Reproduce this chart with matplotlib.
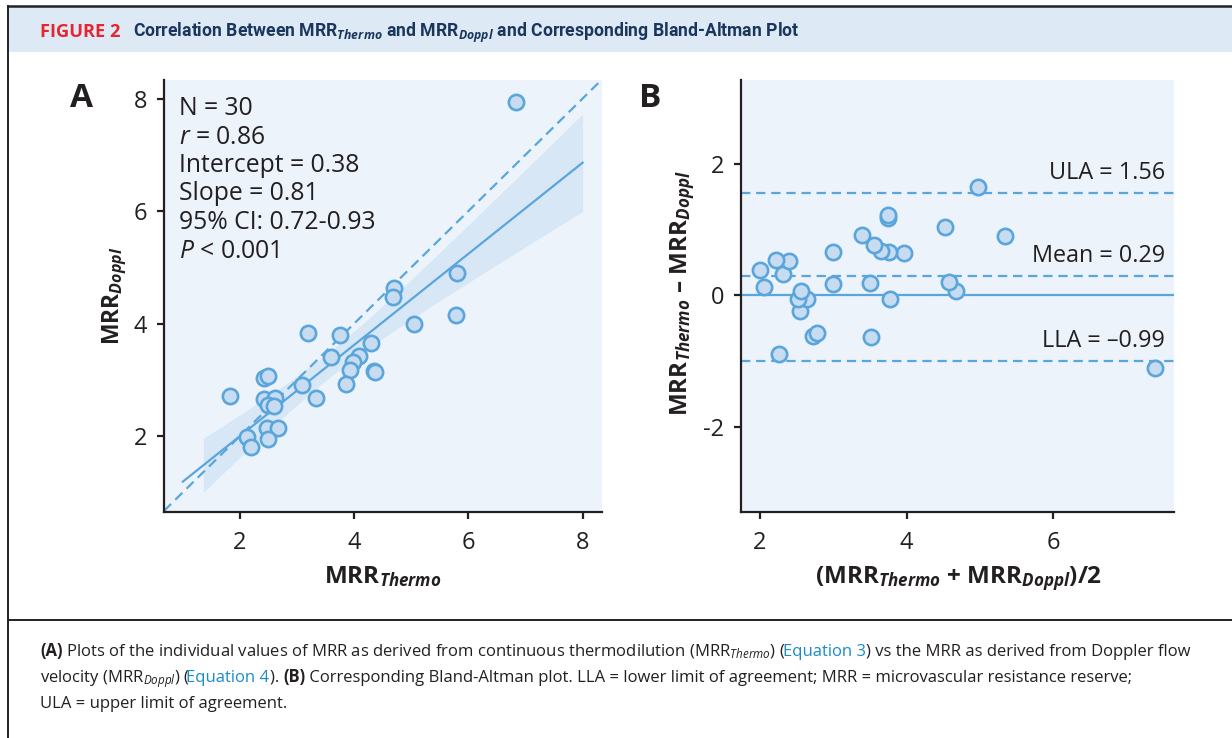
import matplotlib
matplotlib.use("Agg")
import matplotlib.pyplot as plt
import matplotlib.transforms as mtransforms
from matplotlib.lines import Line2D
from matplotlib.patches import Rectangle
import numpy as np

# ---------------- data ----------------
thermo = [6.83, 5.80, 5.79, 4.70, 4.68, 5.04, 3.20, 3.75, 4.29, 3.59,
          4.09, 3.98, 3.93, 4.34, 4.36, 3.85, 3.08, 3.33, 1.82, 2.42,
          2.49, 2.42, 2.61, 2.49, 2.59, 2.48, 2.66, 2.12, 2.49, 2.19]
doppl = [7.94, 4.90, 4.15, 4.64, 4.48, 4.00, 3.84, 3.80, 3.65, 3.41,
         3.43, 3.31, 3.17, 3.16, 3.14, 2.93, 2.91, 2.67, 2.71, 3.03,
         3.06, 2.66, 2.67, 2.55, 2.53, 2.15, 2.14, 1.99, 1.95, 1.80]
n_label = 30
r_value = 0.86
intercept = 0.38
slope = 0.81
slope_ci = (0.72, 0.93)
p_label = "< 0.001"
fit_range = (1.0, 8.0)
band_range = (1.36, 8.0)
mean_diff = 0.29
ula = 1.56
lla = -0.99
a_ticks = [2, 4, 6, 8]
b_xticks = [2, 4, 6]
b_yticks = [-2, 0, 2]

# ---------------- style ----------------
W, H = 1232, 738
BLUE = "#5AA6DC"
FACE = "#C8DCF1"
BG = "#ECF3FB"
BAND = "#D8E7F6"
TXT = "#231F20"
plt.rcParams["font.family"] = ["Open Sans", "DejaVu Sans"]
plt.rcParams["mathtext.fontset"] = "custom"
plt.rcParams["mathtext.rm"] = "Open Sans"
plt.rcParams["mathtext.it"] = "Open Sans:italic"
plt.rcParams["mathtext.bf"] = "Open Sans:bold"
plt.rcParams["mathtext.bfit"] = "Open Sans:bold:italic"
plt.rcParams["axes.unicode_minus"] = False

fig = plt.figure(figsize=(W / 100, H / 100), dpi=100)
fig.patch.set_facecolor("white")


def fx(px):
    return px / W


def fy(py):
    return 1 - py / H


# header band and frame
fig.add_artist(Rectangle((fx(9), fy(52)), 1 - fx(9), 45 / H, transform=fig.transFigure,
                         facecolor="#DDEAF6", edgecolor="none", zorder=0))
fig.add_artist(Line2D([fx(8), 1], [fy(6), fy(6)], transform=fig.transFigure, color="#222222", lw=1.8))
fig.add_artist(Line2D([fx(8), fx(8)], [0, fy(6)], transform=fig.transFigure, color="#222222", lw=1.4))
fig.add_artist(Line2D([fx(8), 1], [fy(620), fy(620)], transform=fig.transFigure, color="#222222", lw=1.4))

renderer = fig.canvas.get_renderer()


def text_width(s, **kw):
    t = fig.text(0, 0, s + "|", **kw)
    t2 = fig.text(0, 0, "|", **kw)
    w = t.get_window_extent(renderer).width - t2.get_window_extent(renderer).width
    t.remove()
    t2.remove()
    return w


def draw_runs(runs, x0, ybase, size):
    x = x0
    for s, kw in runs:
        fig.text(fx(x), fy(ybase), s, fontsize=size, va="baseline", ha="left", **kw)
        x += text_width(s, fontsize=size, **kw)


# header
fig_label_kw = dict(color="#E3262F", fontweight="bold", family=["Open Sans", "DejaVu Sans"])
fsz = 10 * 80 / text_width("FIGURE 2", fontsize=10, **fig_label_kw)
fig.text(fx(40), fy(37), "FIGURE 2", fontsize=fsz, va="baseline", **fig_label_kw)
title_runs = [("Correlation Between MRR$_{\\mathbfit{Thermo}}$ and MRR$_{\\mathbfit{Doppl}}$ "
               "and Corresponding Bland-Altman Plot",
               dict(color="#1B365D", fontweight="bold",
                    family=["Liberation Sans Narrow", "Roboto", "DejaVu Sans"]))]
tw = sum(text_width(s, fontsize=10, **kw) for s, kw in title_runs)
draw_runs(title_runs, 133, 37, 10 * 664 / tw)

# caption
NORM = dict(color=TXT)
BOLD = dict(color=TXT, fontweight="bold")
LINK = dict(color="#1A8CC8")
cap1 = [("(A)", BOLD),
        (" Plots of the individual values of MRR as derived from continuous thermodilution (MRR$_{Thermo}$) (", NORM),
        ("Equation 3", LINK),
        (") vs the MRR as derived from Doppler flow", NORM)]
cap2 = [("velocity (MRR$_{Doppl}$) (", NORM), ("Equation 4", LINK), ("). ", NORM), ("(B)", BOLD),
        (" Corresponding Bland-Altman plot. LLA = lower limit of agreement; MRR = microvascular resistance reserve;", NORM)]
cap3 = [("ULA = upper limit of agreement.", NORM)]
w1 = sum(text_width(s, fontsize=10, **kw) for s, kw in cap1)
csz = 10 * 1152 / w1
draw_runs(cap1, 40, 656, csz)
draw_runs(cap2, 40, 682, csz)
draw_runs(cap3, 40, 708, csz)

# ---------------- axes ----------------
axA = fig.add_axes([fx(164), fy(512), (602 - 164) / W, (512 - 80) / H])
axB = fig.add_axes([fx(741), fy(512), (1174 - 741) / W, (512 - 80) / H])
for ax in (axA, axB):
    ax.set_facecolor(BG)
    for sp in ("top", "right"):
        ax.spines[sp].set_visible(False)
    for sp in ("left", "bottom"):
        ax.spines[sp].set_linewidth(1.6)
        ax.spines[sp].set_color(TXT)
    ax.tick_params(direction="out", length=5, width=1.6, labelsize=17, pad=7, colors=TXT)
    ax.tick_params(axis="x", pad=9)

T = np.array(thermo)
D = np.array(doppl)

# Panel A
axA.set_xlim(0.67, 8.34)
axA.set_ylim(0.65, 8.33)
axA.set_xticks(a_ticks)
axA.set_yticks(a_ticks)
n = len(T)
xm = T.mean()
sxx = ((T - xm) ** 2).sum()
res = D - (intercept + slope * T)
s = np.sqrt((res ** 2).sum() / (n - 2))
tcrit = 2.048
xb = np.linspace(band_range[0], band_range[1], 200)
hw = tcrit * s * np.sqrt(1 / n + (xb - xm) ** 2 / sxx)
yb = intercept + slope * xb
axA.fill_between(xb, yb - hw, yb + hw, color=BAND, lw=0, zorder=1)
axA.axline((0, 0), slope=1, color=BLUE, lw=1.6, ls=(0, (4.5, 2.6)), zorder=2)
xf = np.array(fit_range)
axA.plot(xf, intercept + slope * xf, color=BLUE, lw=1.6, zorder=3)
axA.plot(T, D, "o", ms=11, mfc=FACE, mec=BLUE, mew=1.9, ls="none", zorder=5)

stats = [f"N = {n_label}", f"$r$ = {r_value:.2f}", f"Intercept = {intercept:.2f}",
         f"Slope = {slope:.2f}", f"95% CI: {slope_ci[0]:.2f}-{slope_ci[1]:.2f}", f"$P$ {p_label}"]
for i, line in enumerate(stats):
    axA.text(0.035, (512 - (115 + 28.5 * i)) / 432, line, transform=axA.transAxes,
             fontsize=17.8, color=TXT, va="baseline", ha="left")

# Panel B
avg = (T + D) / 2
diff = T - D
axB.set_xlim(1.74, 7.65)
axB.set_ylim(-3.29, 3.27)
axB.set_xticks(b_xticks)
axB.set_yticks(b_yticks)
axB.axhline(0, color=BLUE, lw=1.6, zorder=2)
for v in (mean_diff, ula, lla):
    axB.axhline(v, color=BLUE, lw=1.6, ls=(0, (4.2, 2.6)), zorder=2)
axB.plot(avg, diff, "o", ms=11, mfc=FACE, mec=BLUE, mew=1.9, ls="none", zorder=5)
trB = mtransforms.blended_transform_factory(axB.transAxes, axB.transData)
for lab, v in (("ULA", ula), ("Mean", mean_diff), ("LLA", lla)):
    axB.text(0.979, v + 0.21, f"{lab} = {v:.2f}".replace("-", "\u2013"), transform=trB,
             fontsize=16.8, color=TXT, ha="right", va="baseline")

# panel letters and axis labels
fig.text(fx(70), fy(107), "A", fontsize=24, fontweight="bold", color=TXT, va="baseline")
fig.text(fx(639), fy(107), "B", fontsize=24, fontweight="bold", color=TXT, va="baseline")
fig.text(fx(383), fy(583), "MRR$_{\\mathbfit{Thermo}}$", fontsize=17.5, fontweight="bold",
         color=TXT, ha="center", va="baseline")
fig.text(fx(958), fy(583), "(MRR$_{\\mathbfit{Thermo}}$ + MRR$_{\\mathbfit{Doppl}}$)/2", fontsize=17.5,
         fontweight="bold", color=TXT, ha="center", va="baseline")
fig.text(fx(115), fy(296), "MRR$_{\\mathbfit{Doppl}}$", fontsize=16.5, fontweight="bold",
         color=TXT, ha="center", va="center", rotation=90)
fig.text(fx(683), fy(293), "MRR$_{\\mathbfit{Thermo}}$ \u2013 MRR$_{\\mathbfit{Doppl}}$", fontsize=17.5,
         fontweight="bold", color=TXT, ha="center", va="center", rotation=90)

fig.savefig("out.png", dpi=100)
